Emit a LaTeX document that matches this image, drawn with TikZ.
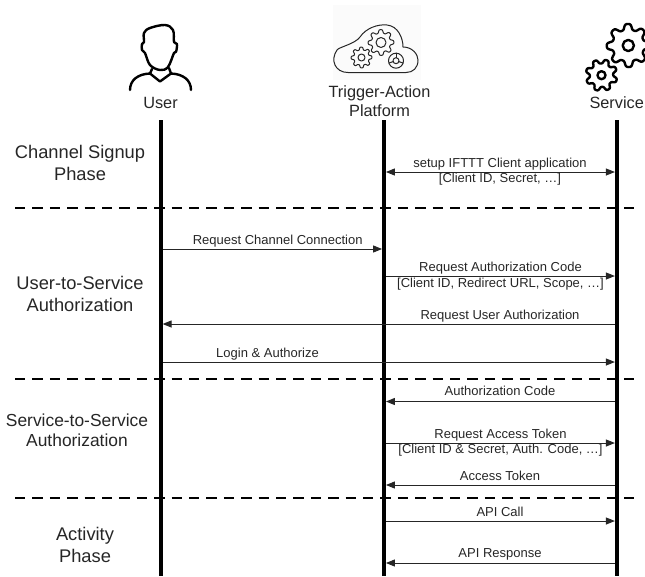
\documentclass[tikz,border=0pt]{standalone}
\usepackage{fontspec}
\setmainfont{Liberation Sans}
\usetikzlibrary{arrows.meta, positioning}

\newcommand{\gearicon}[7]{%
  \draw[#1] plot[domain=0:360, samples=145] ({#2+(#4*(0.86+0.14*tanh(1.6*cos(#6*\x+#7))))*cos(\x)}, {#3+(#4*(0.86+0.14*tanh(1.6*cos(#6*\x+#7))))*sin(\x)}) -- cycle;
  \draw[#1] (#2,#3) circle (#5);
}

\begin{document}
\begin{tikzpicture}[
            x=1pt, y=-1pt,
            lifeline/.style={line width=3.8pt},
            phaseline/.style={line width=2pt, dash pattern=on 10.3pt off 7.1pt},
            msg/.style={-{Triangle[length=9pt,width=7pt]}, line width=1pt, black!85, shorten >=1.9pt, shorten <=1.9pt},
            msgback/.style={{Triangle[length=9pt,width=7pt]}-, line width=1pt, black!85, shorten >=1.9pt, shorten <=1.9pt},
            msgboth/.style={{Triangle[length=9pt,width=7pt]}-{Triangle[length=9pt,width=7pt]}, line width=1pt, black!85, shorten >=1.9pt, shorten <=1.9pt},
            msgtext/.style={inner sep=0pt, text height=9.5pt, text depth=2.5pt, font=\fontsize{13}{15}\selectfont, text=black!85},
            actor/.style={align=center, inner sep=0pt, font=\fontsize{16.3}{19.5}\selectfont, text=black!85},
            phase/.style={align=center, inner sep=0pt, font=\fontsize{18.3}{22}\selectfont, text=black!85},
            iconthick/.style={line width=2.4pt, line join=round, line cap=round},
            iconthin/.style={line width=1pt, line join=round, line cap=round, black!85}
        ]

    \useasboundingbox (0,0) rectangle (645,576);
    \fill[black!1.5] (333,5) rectangle (421,80);

    \draw[iconthick] plot[smooth cycle, tension=0.6] coordinates {(144,42) (144,33) (150,28) (165,25) (173,30) (174,42) (177,44) (176,52) (174,53) (168,67) (160,70) (150,65) (145,53) (142,50) (142,44)};
    \draw[iconthick] (130,90) .. controls (130,80) and (138,74) .. (150,73.5) -- (160,81.5) -- (171,73.5) .. controls (183,74) and (191,80) .. (191,90);
    \draw[iconthick] (152,69) -- (150,73.5);
    \draw[iconthick] (169,68) -- (171,73.5);

    \draw[iconthin] (348,72.5) .. controls (335,72.5) and (330,60) .. (337,50) .. controls (339,47) and (355,44) .. (360,37) .. controls (366,28) and (378,24) .. (387,25) .. controls (398,26) and (403,38) .. (403,47) .. controls (412,47) and (418,54) .. (418,60) .. controls (418,68) and (413,72.5) .. (406,72.5) -- cycle;
    \gearicon{iconthin}{381}{42.5}{13}{5}{8}{10}
    \gearicon{iconthin}{361.5}{57.5}{10.5}{3.5}{8}{10}
    \draw[iconthin] (396,60.7) circle (7.5);
    \draw[iconthin] (396,60.7) circle (3);
    \draw[iconthin] (396,57.7) -- (396,53.2);
    \draw[iconthin] (398.8,61.6) -- (403.1,63);
    \draw[iconthin] (393.2,61.6) -- (388.9,63);

    \gearicon{iconthick}{628.3}{45.5}{21.8}{5.6}{8}{10}
    \gearicon{iconthick}{601.5}{75.2}{16}{4}{8}{204}

    \node[actor] (user) at (160.5,103) {User};
    \node[actor] (platform) at (379.5,101.3) {Trigger-Action\\Platform};
    \node[actor] (service) at (616.7,103) {Service};

    \coordinate (userTop) at (160.7,120);
    \coordinate (userBot) at (160.7,576);
    \coordinate (platTop) at (384,120);
    \coordinate (platBot) at (384,576);
    \coordinate (servTop) at (616.8,120);
    \coordinate (servBot) at (616.8,576);

    \draw[lifeline] (userTop) -- (userBot);
    \draw[lifeline] (platTop) -- (platBot);
    \draw[lifeline] (servTop) -- (servBot);

    \node[phase] (signup) at (80,163) {Channel Signup\\Phase};
    \node[phase] (usersvc) at (80,294) {User-to-Service\\Authorization};
    \node[phase, font=\fontsize{17.4}{19.5}\selectfont] (svcsvc) at (77,430.5) {Service-to-Service\\Authorization};
    \node[phase] (activity) at (85,545) {Activity\\Phase};

    \coordinate (dashL1) at (15,208);
    \coordinate (dashR1) at (637,208);
    \coordinate (dashL2) at (15,379);
    \coordinate (dashR2) at (637,379);
    \coordinate (dashL3) at (15,498);
    \coordinate (dashR3) at (637,498);

    \draw[phaseline] (dashL1) -- (dashR1);
    \draw[phaseline] (dashL2) -- (dashR2);
    \draw[phaseline] (dashL3) -- (dashR3);

    \coordinate (setup) at (500,172);
    \coordinate (channel) at (277.7,249);
    \coordinate (authcode) at (500.5,276);
    \coordinate (userauth) at (500,324);
    \coordinate (login) at (267.5,362);
    \coordinate (code) at (500,401.5);
    \coordinate (token) at (500.5,443);
    \coordinate (access) at (500,485);
    \coordinate (apicall) at (500,521);
    \coordinate (apiresp) at (500,563);

    \draw[msgboth] (platTop |- setup) -- (servTop |- setup);
    \draw[msg] (userTop |- channel) -- (platTop |- channel);
    \draw[msg] (platTop |- authcode) -- (servTop |- authcode);
    \draw[msgback] (userTop |- userauth) -- (servTop |- userauth);
    \draw[msg] (userTop |- login) -- (servTop |- login);
    \draw[msgback] (platTop |- code) -- (servTop |- code);
    \draw[msg] (platTop |- token) -- (servTop |- token);
    \draw[msgback] (platTop |- access) -- (servTop |- access);
    \draw[msg] (platTop |- apicall) -- (servTop |- apicall);
    \draw[msgback] (platTop |- apiresp) -- (servTop |- apiresp);

    \node[msgtext, above=2pt of setup] (setupA) {setup IFTTT Client application};
    \node[msgtext, below=1pt of setup] (setupB) {[Client ID, Secret, …]};
    \node[msgtext, above=2pt of channel] (channelA) {Request Channel Connection};
    \node[msgtext, above=2pt of authcode] (authcodeA) {Request Authorization Code};
    \node[msgtext, below=2pt of authcode] (authcodeB) {[Client ID, Redirect URL, Scope, …]};
    \node[msgtext, above=2pt of userauth] (userauthA) {Request User Authorization};
    \node[msgtext, above=2pt of login] (loginA) {Login \& Authorize};
    \node[msgtext, above=3pt of code] (codeA) {Authorization Code};
    \node[msgtext, above=2pt of token] (tokenA) {Request Access Token};
    \node[msgtext, below=1pt of token] (tokenB) {[Client ID \& Secret, Auth. Code, …]};
    \node[msgtext, above=2pt of access] (accessA) {Access Token};
    \node[msgtext, above=2pt of apicall] (apicallA) {API Call};
    \node[msgtext, above=3pt of apiresp] (apirespA) {API Response};

\end{tikzpicture}
\end{document}
